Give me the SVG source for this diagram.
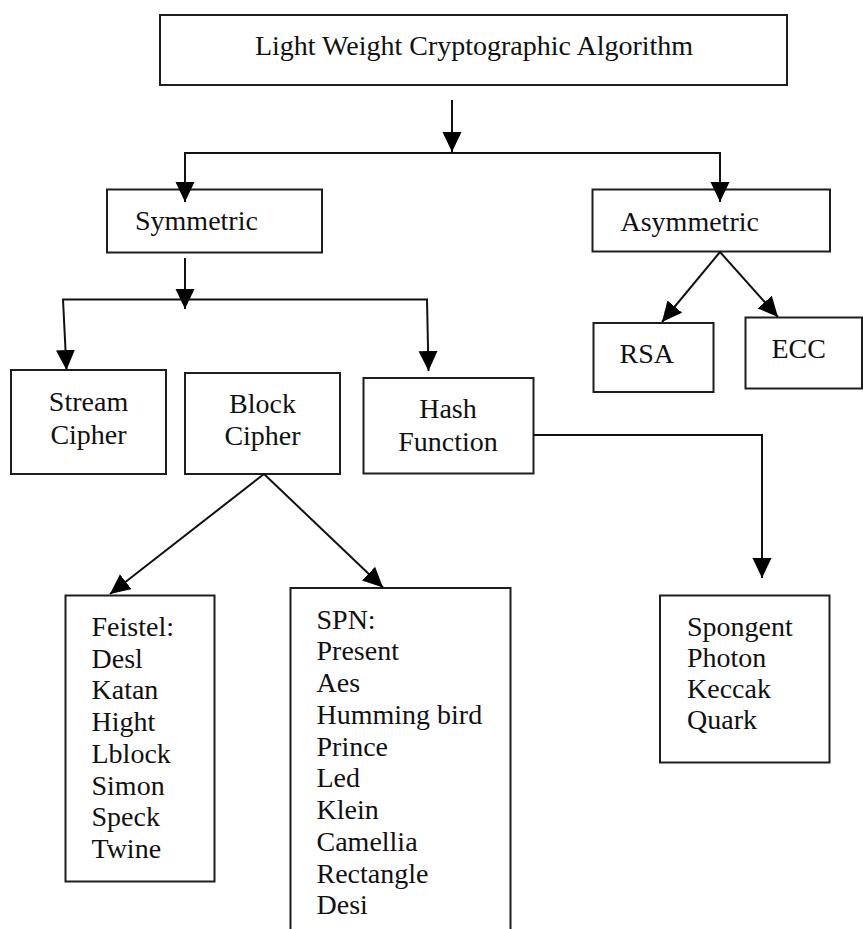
<svg xmlns="http://www.w3.org/2000/svg" width="863" height="929" viewBox="0 0 863 929">
  <style>
    .box { fill: #ffffff; stroke: #1e1e1e; stroke-width: 2; }
    .conn { fill: none; stroke: #111111; stroke-width: 2; }
    text { font-family: "Liberation Serif", "Times New Roman", serif; font-size: 28px; fill: #111111; }
    .c { text-anchor: middle; }
  </style>
  <defs>
    <marker id="arrow" markerUnits="userSpaceOnUse" markerWidth="21" markerHeight="20" refX="20" refY="9.5" orient="auto">
      <path d="M0,0 L20,9.5 L0,19 Z" fill="#000000"/>
    </marker>
  </defs>
  <rect width="863" height="929" fill="#ffffff"/>

  <g id="root">
    <rect class="box" x="160" y="15" width="627" height="70"/>
    <text class="c" x="474" y="55">Light Weight Cryptographic Algorithm</text>
  </g>
  <g id="symmetric">
    <rect class="box" x="107" y="189.5" width="215" height="63"/>
    <text x="135" y="229.5">Symmetric</text>
  </g>
  <g id="asymmetric">
    <rect class="box" x="592.5" y="189.5" width="237.5" height="62"/>
    <text x="620.5" y="230.5">Asymmetric</text>
  </g>
  <g id="rsa">
    <rect class="box" x="593.5" y="323" width="120" height="69"/>
    <text x="619.5" y="363">RSA</text>
  </g>
  <g id="ecc">
    <rect class="box" x="745.5" y="317.5" width="116.5" height="71"/>
    <text x="771.5" y="358">ECC</text>
  </g>
  <g id="stream">
    <rect class="box" x="11" y="370" width="155" height="104"/>
    <text class="c" x="88.5" y="411">Stream</text>
    <text class="c" x="88.5" y="443.5">Cipher</text>
  </g>
  <g id="block">
    <rect class="box" x="185" y="373" width="155" height="101"/>
    <text class="c" x="262.5" y="412.5">Block</text>
    <text class="c" x="262.5" y="445">Cipher</text>
  </g>
  <g id="hash">
    <rect class="box" x="363.5" y="378" width="170" height="95.5"/>
    <text class="c" x="448" y="418">Hash</text>
    <text class="c" x="448" y="450.5">Function</text>
  </g>
  <g id="feistel">
    <rect class="box" x="65.5" y="595.5" width="149" height="286"/>
    <text x="91.5" y="636">Feistel:</text>
    <text x="91.5" y="667.5">Desl</text>
    <text x="91.5" y="699">Katan</text>
    <text x="91.5" y="730.5">Hight</text>
    <text x="91.5" y="762.5">Lblock</text>
    <text x="91.5" y="794.5">Simon</text>
    <text x="91.5" y="826">Speck</text>
    <text x="91.5" y="857.5">Twine</text>
  </g>
  <g id="spn">
    <rect class="box" x="290.5" y="588" width="220" height="360"/>
    <text x="316.5" y="628.5">SPN:</text>
    <text x="316.5" y="660">Present</text>
    <text x="316.5" y="692">Aes</text>
    <text x="316.5" y="723.5">Humming bird</text>
    <text x="316.5" y="755.5">Prince</text>
    <text x="316.5" y="787">Led</text>
    <text x="316.5" y="819">Klein</text>
    <text x="316.5" y="850.5">Camellia</text>
    <text x="316.5" y="882.5">Rectangle</text>
    <text x="316.5" y="914">Desi</text>
  </g>
  <g id="hashlist">
    <rect class="box" x="660" y="595.5" width="169.5" height="167"/>
    <text x="687" y="636">Spongent</text>
    <text x="687" y="667">Photon</text>
    <text x="687" y="698">Keccak</text>
    <text x="687" y="729">Quark</text>
  </g>

  <g id="connectors">
    <path class="conn" d="M452,100 V152" marker-end="url(#arrow)"/>
    <path class="conn" d="M452,153 H185 V202" marker-end="url(#arrow)"/>
    <path class="conn" d="M452,153 H720 V202" marker-end="url(#arrow)"/>
    <path class="conn" d="M185,258 V309" marker-end="url(#arrow)"/>
    <path class="conn" d="M185,299.5 H63 L66.5,370" marker-end="url(#arrow)"/>
    <path class="conn" d="M185,299.5 H427 L428.5,371" marker-end="url(#arrow)"/>
    <path class="conn" d="M264,474 L110,594" marker-end="url(#arrow)"/>
    <path class="conn" d="M264,474 L383,587.5" marker-end="url(#arrow)"/>
    <path class="conn" d="M533.5,435 H762 V578" marker-end="url(#arrow)"/>
    <path class="conn" d="M720,252 L662,322" marker-end="url(#arrow)"/>
    <path class="conn" d="M720,252 L778,317" marker-end="url(#arrow)"/>
  </g>
</svg>
